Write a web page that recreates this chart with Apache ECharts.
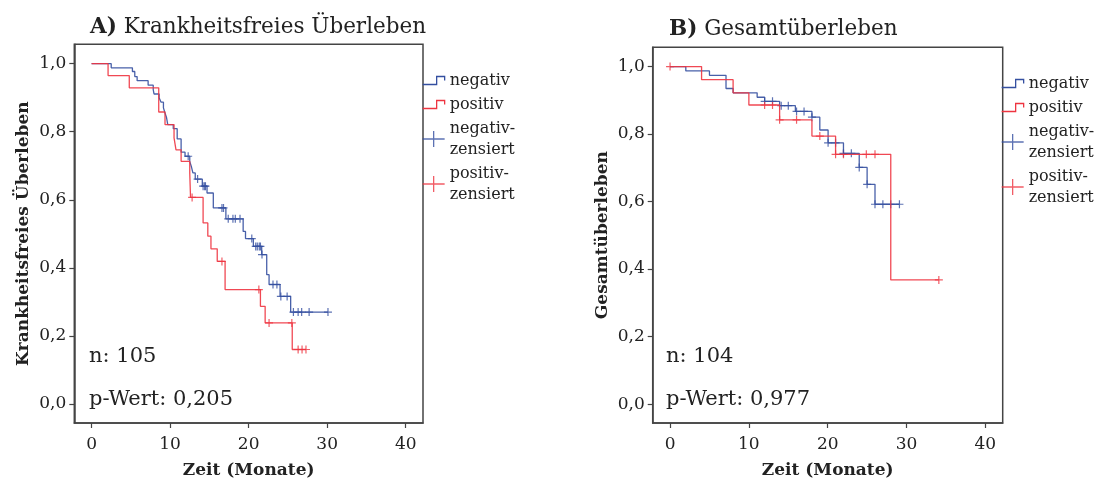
<!DOCTYPE html>
<html>
<head>
<meta charset="utf-8">
<script src="https://cdn.jsdelivr.net/npm/echarts@6/dist/echarts.min.js"></script>
<style>
  html, body { margin: 0; padding: 0; background: #fff; }
  #chart { width: 1101px; height: 484px; }
</style>
</head>
<body>
<div id="chart"></div>
<script>
// A) Krankheitsfreies Überleben - Stufen (Zeit, Überleben) und zensierte Zeiten
const dfsNegT = [0, 2.5, 5.2, 5.5, 5.8, 7.2, 7.85, 7.95, 8.6, 8.85, 9.15, 9.35, 9.55, 9.7, 10.4, 10.9, 11.4, 11.9, 12.5, 12.7, 12.9, 13.2, 14.1, 14.7, 15.5, 17.1, 19.3, 19.6, 20.6, 21.66, 22.3, 22.6, 24.0, 25.35];
const dfsNegS = [1.0, 0.988, 0.977, 0.962, 0.95, 0.937, 0.924, 0.911, 0.9, 0.887, 0.87, 0.855, 0.841, 0.821, 0.809, 0.779, 0.74, 0.728, 0.713, 0.698, 0.679, 0.661, 0.64, 0.62, 0.576, 0.544, 0.507, 0.486, 0.463, 0.439, 0.38, 0.351, 0.316, 0.27];
const dfsNegCens = [12.3, 13.5, 14.2, 14.4, 14.5, 16.6, 16.8, 17.4, 18.0, 18.3, 18.9, 20.4, 20.9, 21.1, 21.35, 21.5, 21.7, 23.1, 23.6, 24.1, 24.9, 25.7, 26.3, 26.75, 27.7, 30.1];
const dfsPosT = [0, 2.1, 4.8, 8.55, 9.35, 10.5, 10.75, 11.4, 12.5, 12.6, 14.2, 14.8, 15.2, 16.0, 17.0, 21.5, 22.1, 25.55];
const dfsPosS = [1.0, 0.965, 0.929, 0.858, 0.821, 0.782, 0.747, 0.713, 0.679, 0.607, 0.532, 0.493, 0.456, 0.419, 0.336, 0.287, 0.238, 0.16];
const dfsPosCens = [12.8, 16.6, 21.3, 22.6, 25.5, 26.3, 26.8, 27.3];

// B) Gesamtüberleben
const osNegT = [0, 2.0, 5.0, 7.1, 8.0, 11.05, 12.0, 13.9, 15.9, 18.0, 19.0, 20.05, 22.0, 24.0, 25.0, 26.0];
const osNegS = [1.0, 0.987, 0.974, 0.935, 0.922, 0.909, 0.897, 0.884, 0.867, 0.85, 0.812, 0.774, 0.743, 0.701, 0.651, 0.592];
const osNegCens = [12.0, 13.0, 14.1, 15.0, 16.05, 17.0, 18.0, 20.05, 21.0, 22.0, 23.0, 24.0, 25.0, 26.0, 27.0, 28.0, 29.1];
const osPosT = [0, 4.0, 8.0, 10.0, 13.9, 18.0, 21.0, 28.0];
const osPosS = [1.0, 0.961, 0.922, 0.886, 0.842, 0.794, 0.74, 0.368];
const osPosCens = [0, 12.0, 13.0, 13.9, 16.05, 19.0, 21.0, 22.0, 24.9, 26.0, 34.1];

const xTicks = [0, 10, 20, 30, 40];
const yTicks = [0, 0.2, 0.4, 0.6, 0.8, 1.0];

const BLUE = '#344fa0';
const RED = '#ee3440';
const FONT = 'DejaVu Serif';
const TXT = '#222';

function survAt(T, S, t) {
  let s = S[0];
  for (let i = 0; i < T.length; i++) {
    if (T[i] <= t) s = S[i];
  }
  return s;
}
function curve(T, S, C) {
  const pts = T.map((t, i) => [t, S[i]]);
  const end = Math.max(T[T.length - 1], C[C.length - 1]);
  pts.push([end, S[S.length - 1]]);
  return pts;
}
function marks(T, S, C) {
  return C.map(t => [t, survAt(T, S, t)]);
}

const plusIcon = 'path://M0,8L22,8M11,0L11,16';
const stepIcon = 'path://M0,8L14,8L14,0L22,0L22,4';
const censSymbol = 'path://M0,5L10,5M5,0L5,10';

function xAxisOf(i) {
  return {
    type: 'value', gridIndex: i, min: -2.2, max: 42.2,
    name: 'Zeit (Monate)', nameLocation: 'middle', nameGap: 39,
    nameTextStyle: { fontFamily: FONT, fontWeight: 'bold', fontSize: 17, color: TXT },
    axisLine: { show: true, onZero: false, lineStyle: { color: '#444', width: 1.5 } },
    axisTick: { show: true, customValues: xTicks, length: 5, lineStyle: { color: '#444', width: 1.2 } },
    axisLabel: { customValues: xTicks, margin: 13, fontFamily: FONT, fontSize: 17, color: TXT },
    splitLine: { show: false }
  };
}
function yAxisOf(i, name) {
  return {
    type: 'value', gridIndex: i, min: -0.056, max: 1.057,
    name: name, nameLocation: 'middle', nameGap: 42,
    nameTextStyle: { fontFamily: FONT, fontWeight: 'bold', fontSize: 17, color: TXT },
    axisLine: { show: true, onZero: false, lineStyle: { color: '#444', width: 1.5 } },
    axisTick: { show: true, customValues: yTicks, length: 5, lineStyle: { color: '#444', width: 1.2 } },
    axisLabel: {
      customValues: yTicks, margin: 8, fontFamily: FONT, fontSize: 17, color: TXT,
      formatter: v => v.toFixed(1).replace('.', ',')
    },
    splitLine: { show: false }
  };
}
function legendOf(left, top) {
  return {
    orient: 'vertical', left: left, top: top, padding: 0,
    itemWidth: 22, itemHeight: 18, itemGap: 3,
    textStyle: { fontFamily: FONT, fontSize: 16, color: TXT, lineHeight: 21 },
    data: [
      { name: 'negativ', icon: stepIcon, itemStyle: { color: 'transparent', borderColor: BLUE, borderWidth: 1.3 } },
      { name: 'positiv', icon: stepIcon, itemStyle: { color: 'transparent', borderColor: RED, borderWidth: 1.3 } },
      { name: 'negativ-\nzensiert', icon: plusIcon, itemStyle: { color: 'transparent', borderColor: BLUE, borderWidth: 1.3 } },
      { name: 'positiv-\nzensiert', icon: plusIcon, itemStyle: { color: 'transparent', borderColor: RED, borderWidth: 1.3 } }
    ]
  };
}
function lineSeries(name, i, color, T, S, C) {
  return {
    name: name, type: 'line', step: 'end', xAxisIndex: i, yAxisIndex: i,
    data: curve(T, S, C), showSymbol: false, silent: true,
    lineStyle: { color: color, width: 1.3, opacity: 0.9 }, itemStyle: { color: color }
  };
}
function censSeries(name, i, color, T, S, C) {
  return {
    name: name, type: 'scatter', xAxisIndex: i, yAxisIndex: i,
    data: marks(T, S, C), symbol: censSymbol, symbolSize: 8, silent: true,
    itemStyle: { color: 'transparent', borderColor: color, borderWidth: 1.2 }
  };
}

const chart = echarts.init(document.getElementById('chart'));
chart.setOption({
  animation: false,
  title: [
    {
      text: '{b|A)} Krankheitsfreies Überleben', left: 90, top: 16, padding: 0,
      textStyle: { fontFamily: FONT, fontSize: 21.5, fontWeight: 'normal', color: TXT,
        rich: { b: { fontFamily: FONT, fontSize: 21.5, fontWeight: 'bold', color: TXT } } }
    },
    {
      text: '{b|B)} Gesamtüberleben', left: 669, top: 18, padding: 0,
      textStyle: { fontFamily: FONT, fontSize: 21.5, fontWeight: 'normal', color: TXT,
        rich: { b: { fontFamily: FONT, fontSize: 21.5, fontWeight: 'bold', color: TXT } } }
    }
  ],
  grid: [
    { left: 74.3, top: 44.3, width: 348.7, height: 378.7, show: true, borderColor: '#444', borderWidth: 1.5, backgroundColor: '#fff' },
    { left: 652.7, top: 47.3, width: 350, height: 377, show: true, borderColor: '#444', borderWidth: 1.5, backgroundColor: '#fff' }
  ],
  legend: [legendOf(422, 70), legendOf(1001, 73)],
  xAxis: [xAxisOf(0), xAxisOf(1)],
  yAxis: [yAxisOf(0, 'Krankheitsfreies Überleben'), yAxisOf(1, 'Gesamtüberleben')],
  graphic: [
    { type: 'text', left: 89, top: 346, style: { text: 'n: 105', font: '21px "DejaVu Serif"', fill: TXT } },
    { type: 'text', left: 89, top: 389, style: { text: 'p-Wert: 0,205', font: '21px "DejaVu Serif"', fill: TXT } },
    { type: 'text', left: 666, top: 346, style: { text: 'n: 104', font: '21px "DejaVu Serif"', fill: TXT } },
    { type: 'text', left: 666, top: 389, style: { text: 'p-Wert: 0,977', font: '21px "DejaVu Serif"', fill: TXT } }
  ],
  series: [
    lineSeries('negativ', 0, BLUE, dfsNegT, dfsNegS, dfsNegCens),
    lineSeries('positiv', 0, RED, dfsPosT, dfsPosS, dfsPosCens),
    censSeries('negativ-\nzensiert', 0, BLUE, dfsNegT, dfsNegS, dfsNegCens),
    censSeries('positiv-\nzensiert', 0, RED, dfsPosT, dfsPosS, dfsPosCens),
    lineSeries('negativ', 1, BLUE, osNegT, osNegS, osNegCens),
    lineSeries('positiv', 1, RED, osPosT, osPosS, osPosCens),
    censSeries('negativ-\nzensiert', 1, BLUE, osNegT, osNegS, osNegCens),
    censSeries('positiv-\nzensiert', 1, RED, osPosT, osPosS, osPosCens)
  ]
});
</script>
</body>
</html>
